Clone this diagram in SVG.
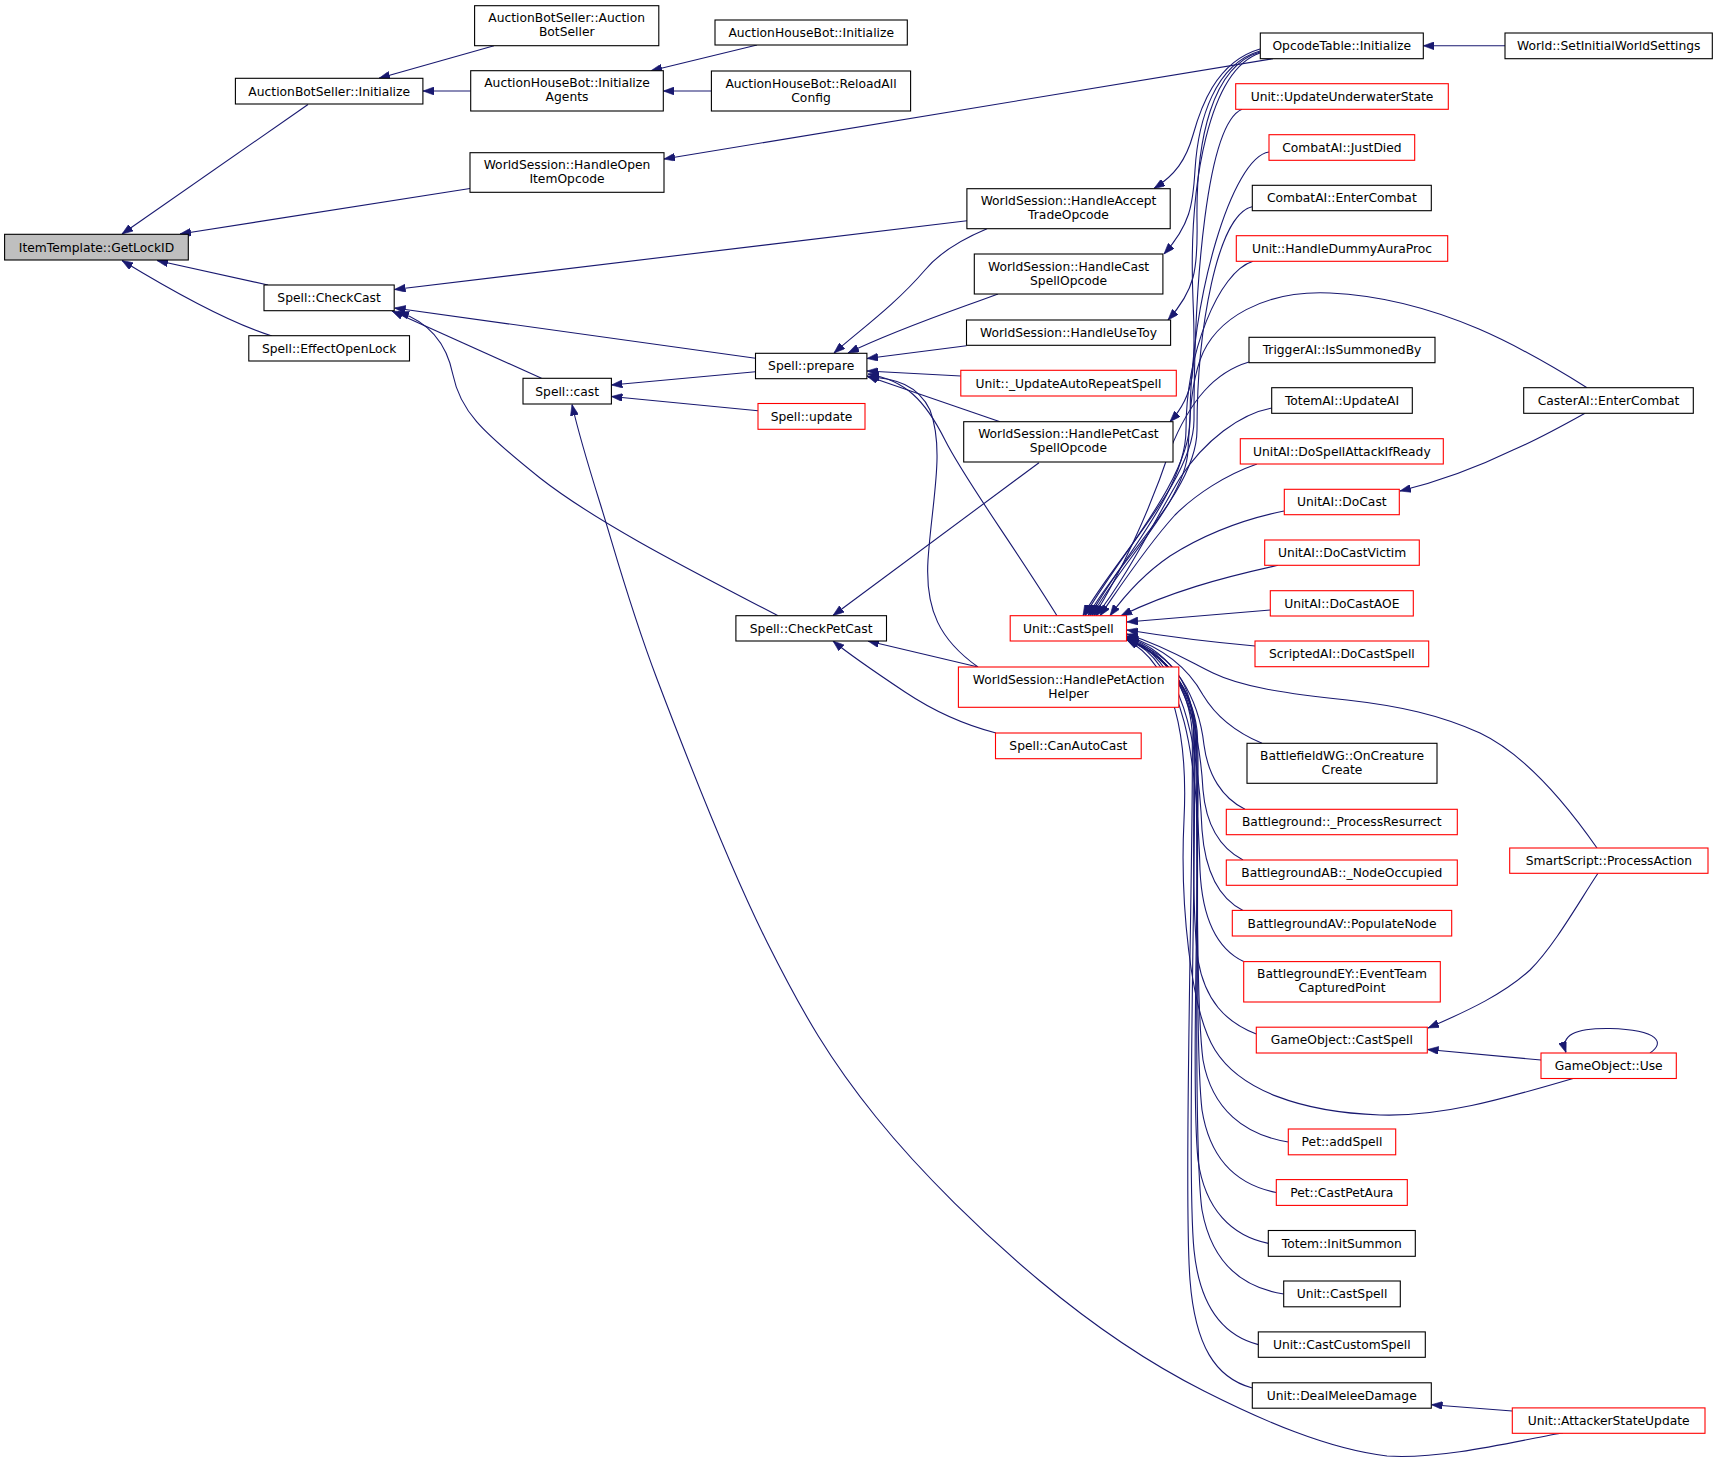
<svg xmlns="http://www.w3.org/2000/svg" width="1717" height="1462" viewBox="0 0 1717 1462">
<defs>
<marker id="a" markerUnits="userSpaceOnUse" markerWidth="11" markerHeight="8" viewBox="0 0 11 8" refX="11" refY="4" orient="auto">
<path d="M0,0 L11,4 L0,8 z" fill="#191970" stroke="#191970" stroke-width="0.6"/>
</marker>
</defs>
<style>
.n rect{fill:#fff;stroke:#000;stroke-width:1.1}
.n.r rect{stroke:#f00}
.n.m rect{fill:#bfbfbf}
text{font-family:"DejaVu Sans",Verdana,sans-serif;font-size:12.3px;text-anchor:middle;fill:#000}
#edges path{fill:none;stroke:#191970;stroke-width:1.1;marker-end:url(#a)}
</style>
<rect width="1717" height="1462" fill="#fff"/>
<g id="edges">
<path d="M308,104.5 L122,234"/>
<path d="M470,188.5 L180,234"/>
<path d="M268,285 L157,260.5"/>
<path d="M272,336 C240,326 195,305 122,260.5"/>
<path d="M494,45.7 L379,78.3"/>
<path d="M470.7,91 L423,91"/>
<path d="M757,45 L651,70.7"/>
<path d="M711.4,91 L663.3,91"/>
<path d="M1273,58.7 L664,159"/>
<path d="M1505,45.8 L1423.3,45.8"/>
<path d="M1260,49 C1215,62 1200,110 1193,135 C1186,160 1175,175 1154,188.5"/>
<path d="M1260,51 C1215,64 1198,120 1195,170 C1193,205 1190,225 1164,254"/>
<path d="M1260,52 C1212,66 1196,140 1197,220 C1198,270 1195,290 1168,320"/>
<path d="M1260,53 C1210,70 1188,180 1193,300 C1196,370 1195,395 1170,421.7"/>
<path d="M967,220.7 L394.5,289.5"/>
<path d="M755.5,358.3 L394.5,308"/>
<path d="M541.5,378.3 L392,311"/>
<path d="M778,615.7 C700,575 600,525 540,478 C480,430 460,410 453,375 C447,345 430,322 398,312"/>
<path d="M755.5,371.7 L611.4,385"/>
<path d="M758,410.7 L611.4,396.5"/>
<path d="M1563,1433 C1533.7,1436.8 1446.8,1460 1387,1456 C1327.2,1449 1261.8,1420.2 1204,1391 C1146.2,1361.8 1094.7,1326.7 1040,1281 C985.3,1235.3 921.5,1173.5 876,1117 C830.5,1060.5 803.5,1015 767,942 C730.5,869 684.8,752.2 657,679 C629.2,605.8 614.3,548.7 600,503 C585.7,457.3 575.8,421.3 572,404.5"/>
<path d="M987,228.7 C960,240 940,252 925,270 C895,305 860,330 834,353"/>
<path d="M998,294 C955,310 900,328 848,353"/>
<path d="M966.5,345.7 L867,358.5"/>
<path d="M960.8,376 L867,371"/>
<path d="M1000,421.7 L867,376"/>
<path d="M1057,615.7 C1010,540 965,480 945,440 C925,400 905,380 868,374"/>
<path d="M978,667 C940,640 925,610 928,560 C932,500 945,450 930,410 C918,385 895,378 868,377"/>
<path d="M1039,462.7 L833,615.5"/>
<path d="M978,667 L868,641"/>
<path d="M996,733 C965,725 935,712 905,692 C875,672 850,655 833,641"/>
<path d="M1242,109.3 C1207,124 1194,280 1194,420 C1194,480 1113,561 1083,615.7"/>
<path d="M1269,152 C1232,157 1190,299 1190,420 C1190,480 1115,561 1085,615.7"/>
<path d="M1252,206.7 C1217,215 1197,330 1197,430 C1197,490 1118,561 1088,615.7"/>
<path d="M1253,261.3 C1218,272 1186,354 1186,430 C1186,490 1120,561 1090,615.7"/>
<path d="M1587,387.7 C1530,352 1440,298 1330,293 C1265,290 1215,318 1200,360 C1190,390 1190,420 1188,450 C1186,500 1122,561 1092,615.7"/>
<path d="M1249,362 C1215,372 1190,400 1170,450 C1150,510 1120,575 1094,615.7"/>
<path d="M1271.7,408 C1240,414 1205,440 1180,478 C1155,520 1125,580 1096,615.7"/>
<path d="M1257,464 C1225,475 1195,495 1175,515 C1145,548 1118,590 1100,615.7"/>
<path d="M1284,511 C1240,520 1200,537 1170,556 C1145,573 1125,595 1110,615.7"/>
<path d="M1278,565.3 C1220,578 1170,592 1121,615.7"/>
<path d="M1270.3,610 C1220,614 1170,618 1127,622"/>
<path d="M1255,646 C1210,642 1170,637 1127,630"/>
<path d="M1597,848 C1560,795 1520,752 1480,733 C1440,715 1400,706 1347,700 C1280,693 1240,686 1213,673 C1195,665 1170,648 1127,634"/>
<path d="M1262,743.3 C1235,732 1215,715 1203,695 C1192,675 1170,650 1127,636"/>
<path d="M1245,809.3 C1222,798 1208,775 1204,745 C1199,700 1175,652 1127,637"/>
<path d="M1243,860 C1220,848 1206,825 1203,790 C1199,720 1180,655 1127,638"/>
<path d="M1243,910.4 C1218,898 1205,870 1202,830 C1198,740 1182,658 1127,638.5"/>
<path d="M1243.7,961.6 C1215,948 1202,915 1200,870 C1197,760 1185,662 1127,639"/>
<path d="M1256.3,1034 C1225,1022 1205,1000 1198,960 C1190,900 1196,760 1193,720 C1190,680 1168,652 1127,640"/>
<path d="M1573,1078.5 C1500,1100 1440,1117 1380,1115 C1300,1112 1240,1090 1215,1050 C1190,1010 1180,900 1184,820 C1188,740 1175,665 1127,640"/>
<path d="M1288.3,1142 C1245,1135 1212,1110 1203,1060 C1195,1000 1198,780 1195,730 C1192,690 1168,655 1127,640"/>
<path d="M1276.3,1192.5 C1238,1185 1210,1160 1202,1110 C1194,1040 1200,780 1196,730 C1192,690 1168,655 1127,640"/>
<path d="M1268.3,1243.4 C1232,1236 1205,1210 1198,1160 C1190,1080 1202,780 1197,730 C1192,690 1168,655 1127,640"/>
<path d="M1283.7,1294 C1245,1288 1212,1265 1202,1210 C1192,1140 1200,780 1196,730 C1192,690 1168,655 1127,640"/>
<path d="M1258.3,1344.6 C1225,1336 1200,1310 1194,1250 C1186,1170 1198,780 1194,730 C1190,690 1168,655 1127,640"/>
<path d="M1252.3,1388 C1215,1378 1195,1345 1190,1280 C1183,1190 1195,780 1192,730 C1189,690 1168,655 1127,640"/>
<path d="M1585,413.3 C1555,430 1530,443 1513,450 C1480,466 1445,480 1400,491"/>
<path d="M1598,873.3 C1580,900 1555,945 1530,970 C1505,993 1470,1010 1428,1028"/>
<path d="M1541,1060 L1427.5,1049.5"/>
<path d="M1650,1053 C1665,1043 1660,1030 1610,1028.5 C1575,1028 1560,1035 1566,1052.5"/>
<path d="M1512.3,1411 L1431.5,1404.7"/>
</g>
<g id="n1" class="n m"><rect x="4.6" y="234.3" width="183.7" height="25.7"/><text x="96.5" y="251.5">ItemTemplate::GetLockID</text></g>
<g id="n2" class="n"><rect x="235.4" y="78.3" width="187.5" height="25.7"/><text x="329.2" y="95.5">AuctionBotSeller::Initialize</text></g>
<g id="n3" class="n"><rect x="474.6" y="5.7" width="184.2" height="40"/><text x="566.7" y="22.2">AuctionBotSeller::Auction</text><text x="566.7" y="36.2">BotSeller</text></g>
<g id="n4" class="n"><rect x="470.7" y="70.7" width="192.6" height="40.3"/><text x="567" y="87.3">AuctionHouseBot::Initialize</text><text x="567" y="101.3">Agents</text></g>
<g id="n5" class="n"><rect x="470" y="152.7" width="194" height="39.6"/><text x="567" y="169">WorldSession::HandleOpen</text><text x="567" y="183">ItemOpcode</text></g>
<g id="n6" class="n"><rect x="264" y="285" width="130.2" height="25.7"/><text x="329.1" y="302.2">Spell::CheckCast</text></g>
<g id="n7" class="n"><rect x="248.8" y="335.7" width="160.7" height="25.3"/><text x="329.2" y="352.7">Spell::EffectOpenLock</text></g>
<g id="n8" class="n"><rect x="523" y="378.3" width="88.4" height="25.7"/><text x="567.2" y="395.5">Spell::cast</text></g>
<g id="n9" class="n"><rect x="715" y="20" width="192.3" height="25"/><text x="811.2" y="36.8">AuctionHouseBot::Initialize</text></g>
<g id="n10" class="n"><rect x="711.4" y="71" width="199.2" height="40"/><text x="811" y="87.5">AuctionHouseBot::ReloadAll</text><text x="811" y="101.5">Config</text></g>
<g id="n11" class="n"><rect x="755.5" y="353.3" width="111.4" height="25.4"/><text x="811.2" y="370.3">Spell::prepare</text></g>
<g id="n12" class="n r"><rect x="758" y="403.5" width="107" height="25.8"/><text x="811.5" y="420.7">Spell::update</text></g>
<g id="n13" class="n"><rect x="735.9" y="615.7" width="150.6" height="25.3"/><text x="811.2" y="632.7">Spell::CheckPetCast</text></g>
<g id="n14" class="n"><rect x="966.9" y="188.7" width="203.3" height="40"/><text x="1068.5" y="205.2">WorldSession::HandleAccept</text><text x="1068.5" y="219.2">TradeOpcode</text></g>
<g id="n15" class="n"><rect x="974.3" y="254" width="188.6" height="40"/><text x="1068.6" y="270.5">WorldSession::HandleCast</text><text x="1068.6" y="284.5">SpellOpcode</text></g>
<g id="n16" class="n"><rect x="966.5" y="320" width="204.1" height="25.3"/><text x="1068.5" y="337">WorldSession::HandleUseToy</text></g>
<g id="n17" class="n r"><rect x="960.8" y="370.3" width="215.5" height="25.7"/><text x="1068.5" y="387.5">Unit::_UpdateAutoRepeatSpell</text></g>
<g id="n18" class="n"><rect x="963.7" y="421.7" width="209.3" height="40.3"/><text x="1068.4" y="438.4">WorldSession::HandlePetCast</text><text x="1068.4" y="452.4">SpellOpcode</text></g>
<g id="n19" class="n r"><rect x="1010.2" y="615.7" width="116.3" height="25.3"/><text x="1068.4" y="632.7">Unit::CastSpell</text></g>
<g id="n20" class="n r"><rect x="958.4" y="667" width="220.4" height="40.3"/><text x="1068.6" y="683.7">WorldSession::HandlePetAction</text><text x="1068.6" y="697.7">Helper</text></g>
<g id="n21" class="n r"><rect x="995.5" y="733" width="145.7" height="25.7"/><text x="1068.4" y="750.2">Spell::CanAutoCast</text></g>
<g id="n22" class="n"><rect x="1260.3" y="33" width="163" height="25.7"/><text x="1341.8" y="50.2">OpcodeTable::Initialize</text></g>
<g id="n23" class="n r"><rect x="1235.7" y="83.7" width="212.6" height="25.6"/><text x="1342" y="100.8">Unit::UpdateUnderwaterState</text></g>
<g id="n24" class="n r"><rect x="1269" y="134.7" width="145.7" height="25.6"/><text x="1341.9" y="151.8">CombatAI::JustDied</text></g>
<g id="n25" class="n"><rect x="1252.3" y="185.3" width="179" height="25.4"/><text x="1341.8" y="202.3">CombatAI::EnterCombat</text></g>
<g id="n26" class="n r"><rect x="1236.3" y="235.7" width="211.4" height="25.6"/><text x="1342" y="252.8">Unit::HandleDummyAuraProc</text></g>
<g id="n27" class="n"><rect x="1249" y="337.3" width="186" height="25.4"/><text x="1342" y="354.3">TriggerAI::IsSummonedBy</text></g>
<g id="n28" class="n"><rect x="1271.7" y="387.7" width="140.6" height="25.6"/><text x="1342" y="404.8">TotemAI::UpdateAI</text></g>
<g id="n29" class="n r"><rect x="1240.3" y="438.7" width="203" height="25.3"/><text x="1341.8" y="455.7">UnitAI::DoSpellAttackIfReady</text></g>
<g id="n30" class="n r"><rect x="1284.3" y="489.3" width="115" height="25.4"/><text x="1341.8" y="506.3">UnitAI::DoCast</text></g>
<g id="n31" class="n r"><rect x="1264.7" y="540" width="154.6" height="25.3"/><text x="1342" y="557">UnitAI::DoCastVictim</text></g>
<g id="n32" class="n r"><rect x="1270.3" y="590.7" width="143" height="25.3"/><text x="1341.8" y="607.7">UnitAI::DoCastAOE</text></g>
<g id="n33" class="n r"><rect x="1255" y="641" width="173.7" height="25.7"/><text x="1341.9" y="658.2">ScriptedAI::DoCastSpell</text></g>
<g id="n34" class="n"><rect x="1247" y="743.3" width="190" height="40"/><text x="1342" y="759.8">BattlefieldWG::OnCreature</text><text x="1342" y="773.8">Create</text></g>
<g id="n35" class="n r"><rect x="1226.3" y="809.3" width="231" height="25.4"/><text x="1341.8" y="826.3">Battleground::_ProcessResurrect</text></g>
<g id="n36" class="n r"><rect x="1226.3" y="860" width="231" height="25.3"/><text x="1341.8" y="877">BattlegroundAB::_NodeOccupied</text></g>
<g id="n37" class="n r"><rect x="1232.3" y="910.4" width="219.4" height="25.6"/><text x="1342" y="927.5">BattlegroundAV::PopulateNode</text></g>
<g id="n38" class="n r"><rect x="1243.7" y="961.6" width="196.6" height="40.4"/><text x="1342" y="978.3">BattlegroundEY::EventTeam</text><text x="1342" y="992.3">CapturedPoint</text></g>
<g id="n39" class="n r"><rect x="1256.3" y="1027.2" width="171" height="25.8"/><text x="1341.8" y="1044.4">GameObject::CastSpell</text></g>
<g id="n40" class="n r"><rect x="1288.3" y="1129" width="107.4" height="25.8"/><text x="1342" y="1146.2">Pet::addSpell</text></g>
<g id="n41" class="n r"><rect x="1276.3" y="1179.6" width="131" height="25.8"/><text x="1341.8" y="1196.8">Pet::CastPetAura</text></g>
<g id="n42" class="n"><rect x="1268.3" y="1230.5" width="147" height="25.8"/><text x="1341.8" y="1247.7">Totem::InitSummon</text></g>
<g id="n43" class="n"><rect x="1283.7" y="1281" width="116.6" height="25.8"/><text x="1342" y="1298.2">Unit::CastSpell</text></g>
<g id="n44" class="n"><rect x="1258.3" y="1331.9" width="167" height="25.4"/><text x="1341.8" y="1348.9">Unit::CastCustomSpell</text></g>
<g id="n45" class="n"><rect x="1252.3" y="1382.8" width="179" height="25.4"/><text x="1341.8" y="1399.8">Unit::DealMeleeDamage</text></g>
<g id="n46" class="n"><rect x="1505" y="33" width="207.3" height="25.7"/><text x="1608.7" y="50.2">World::SetInitialWorldSettings</text></g>
<g id="n47" class="n"><rect x="1523.7" y="387.7" width="169.6" height="25.6"/><text x="1608.5" y="404.8">CasterAI::EnterCombat</text></g>
<g id="n48" class="n r"><rect x="1509.7" y="848" width="198.3" height="25.3"/><text x="1608.9" y="865">SmartScript::ProcessAction</text></g>
<g id="n49" class="n r"><rect x="1541" y="1053" width="135.3" height="25.5"/><text x="1608.7" y="1070">GameObject::Use</text></g>
<g id="n50" class="n r"><rect x="1512.3" y="1407.9" width="192.7" height="25.4"/><text x="1608.7" y="1424.9">Unit::AttackerStateUpdate</text></g>
</svg>
